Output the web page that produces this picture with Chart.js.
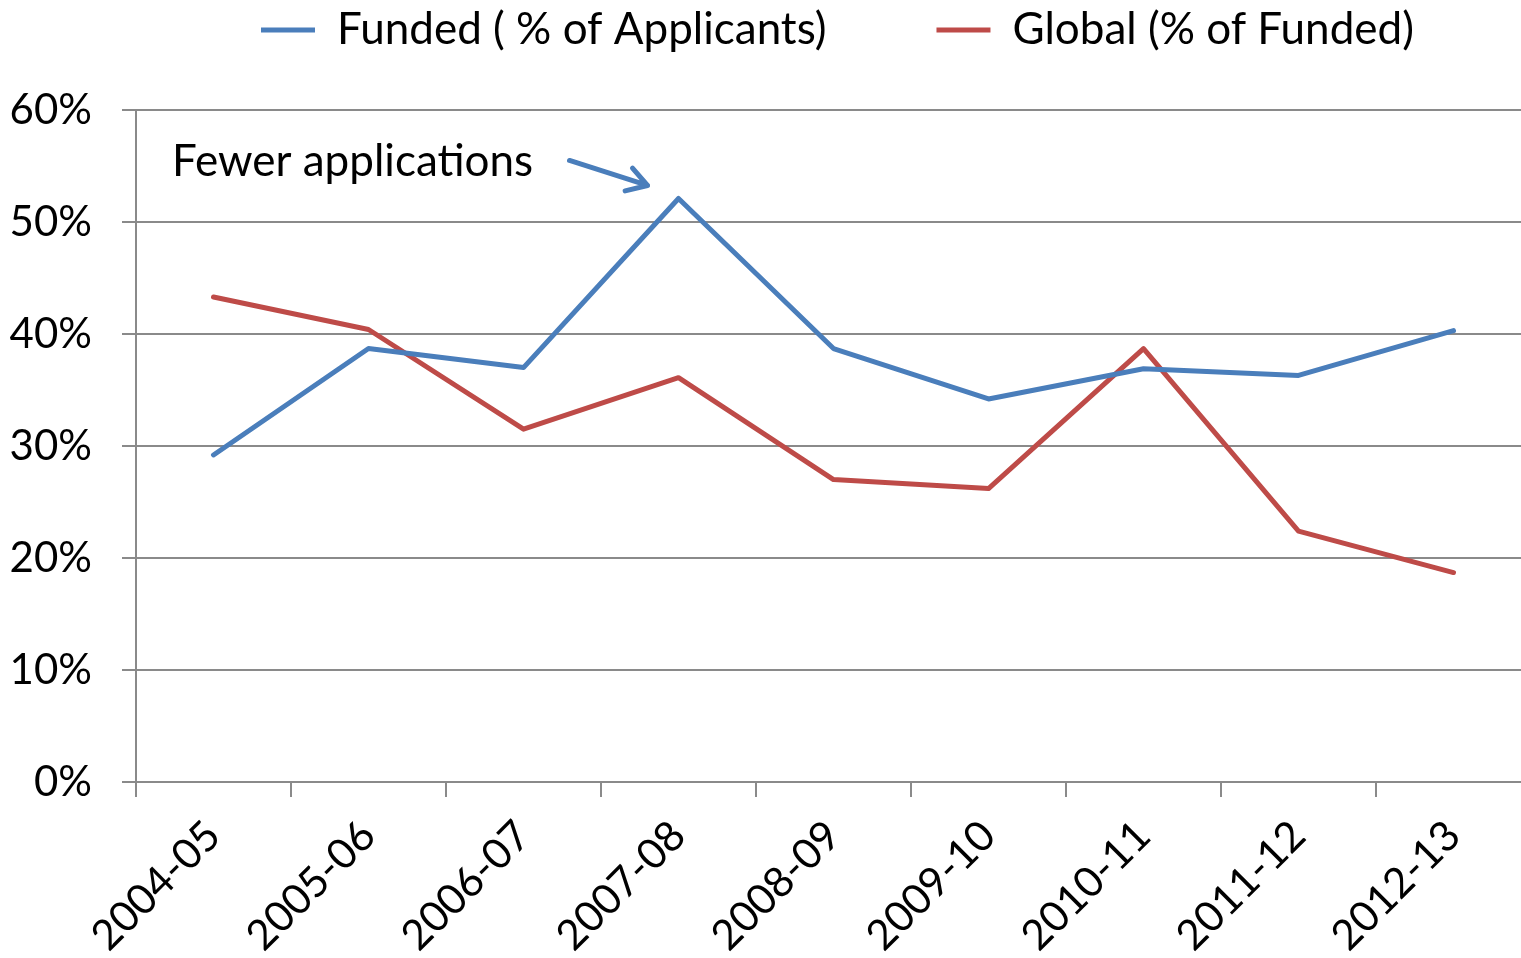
<!DOCTYPE html>
<html>
<head>
<meta charset="utf-8">
<script src="https://cdn.jsdelivr.net/npm/chart.js@4.4.1/dist/chart.umd.min.js"></script>
<style>
  html, body { margin: 0; padding: 0; background: #fff; overflow: hidden; }
  #wrap { width: 1541px; height: 958px; }
</style>
</head>
<body>
<div id="wrap"><canvas id="grafico"></canvas></div>
<script>
const years = ["2004-05", "2005-06", "2006-07", "2007-08", "2008-09", "2009-10", "2010-11", "2011-12", "2012-13"];
const funded = [0.292, 0.387, 0.370, 0.521, 0.387, 0.342, 0.369, 0.363, 0.403];
const global = [0.433, 0.404, 0.315, 0.361, 0.270, 0.262, 0.387, 0.224, 0.187];
const yTicks = [0, 0.1, 0.2, 0.3, 0.4, 0.5, 0.6];

const blue = "#4a7ebb";
const red = "#be4b48";
const gridGray = "#8a8a8a";
const font = "Lato";
const legendGap = 110;

// legend: fixed height, placed by hand
const legendPlace = {
  id: "legendPlace",
  beforeInit(chart) {
    const fit = chart.legend.fit;
    chart.legend.fit = function () {
      fit.bind(chart.legend)();
      this.height = 110;
    };
  },
  afterLayout(chart) {
    const l = chart.legend;
    l.left = 261 - legendGap;
    l.right = l.left + 2400;
    l.top = 30 - 22 - legendGap;
  }
};

// "Fewer applications" note with arrow to the 2007-08 peak
const note = {
  id: "note",
  afterDatasetsDraw(chart) {
    const { ctx, chartArea, scales } = chart;
    const px = scales.x.getPixelForValue(3);
    const py = scales.y.getPixelForValue(funded[3]);
    ctx.save();
    ctx.fillStyle = "#000";
    ctx.font = "44px " + font;
    ctx.textBaseline = "middle";
    ctx.textAlign = "left";
    ctx.fillText("Fewer applications", chartArea.left + 36, scales.y.getPixelForValue(0.554));

    const tx = px - 31, ty = py - 13;
    const sx = px - 109, sy = py - 38;
    const ang = Math.atan2(ty - sy, tx - sx);
    ctx.strokeStyle = blue;
    ctx.lineWidth = 5;
    ctx.lineCap = "round";
    ctx.lineJoin = "round";
    ctx.beginPath();
    ctx.moveTo(sx, sy);
    ctx.lineTo(tx, ty);
    ctx.moveTo(tx - 23 * Math.cos(ang - 0.55), ty - 23 * Math.sin(ang - 0.55));
    ctx.lineTo(tx, ty);
    ctx.lineTo(tx - 23 * Math.cos(ang + 0.55), ty - 23 * Math.sin(ang + 0.55));
    ctx.stroke();
    ctx.restore();
  }
};

const ctx = document.getElementById("grafico");

new Chart(ctx, {
  type: "line",
  data: {
    labels: years,
    datasets: [{
      label: "Funded ( % of Applicants)",
      data: funded,
      borderColor: blue,
      backgroundColor: blue,
      borderWidth: 5,
      pointRadius: 0,
      tension: 0,
      borderCapStyle: "round",
      borderJoinStyle: "round"
    }, {
      label: "Global (% of Funded)",
      data: global,
      borderColor: red,
      backgroundColor: red,
      borderWidth: 5,
      pointRadius: 0,
      tension: 0,
      borderCapStyle: "round",
      borderJoinStyle: "round"
    }]
  },
  options: {
    responsive: true,
    maintainAspectRatio: false,
    animation: false,
    layout: {
      padding: { left: 8, right: 10, top: 0, bottom: 0 }
    },
    plugins: {
      legend: {
        display: true,
        position: "top",
        align: "start",
        labels: {
          color: "#000",
          font: { family: font, size: 44 },
          usePointStyle: true,
          pointStyle: "line",
          pointStyleWidth: 54,
          padding: legendGap
        }
      },
      tooltip: { enabled: false }
    },
    scales: {
      x: {
        offset: true,
        grid: {
          offset: true,
          drawOnChartArea: false,
          drawTicks: true,
          tickLength: 15,
          color: gridGray,
          lineWidth: 2
        },
        border: { color: gridGray, width: 2 },
        ticks: {
          color: "#000",
          font: { family: font, size: 42 },
          minRotation: 45,
          maxRotation: 45,
          padding: 14,
          autoSkip: false
        },
        afterFit(scale) { scale.height = 176; }
      },
      y: {
        min: 0,
        max: 0.6,
        afterBuildTicks(scale) {
          scale.ticks = yTicks.map(v => ({ value: v }));
        },
        grid: {
          color: gridGray,
          lineWidth: 2,
          tickLength: 14
        },
        border: { color: gridGray, width: 2 },
        ticks: {
          color: "#000",
          font: { family: font, size: 42 },
          padding: 30,
          callback: v => Math.round(v * 100) + "%"
        },
        afterFit(scale) { scale.width = 128; }
      }
    }
  },
  plugins: [legendPlace, note]
});
</script>
</body>
</html>
